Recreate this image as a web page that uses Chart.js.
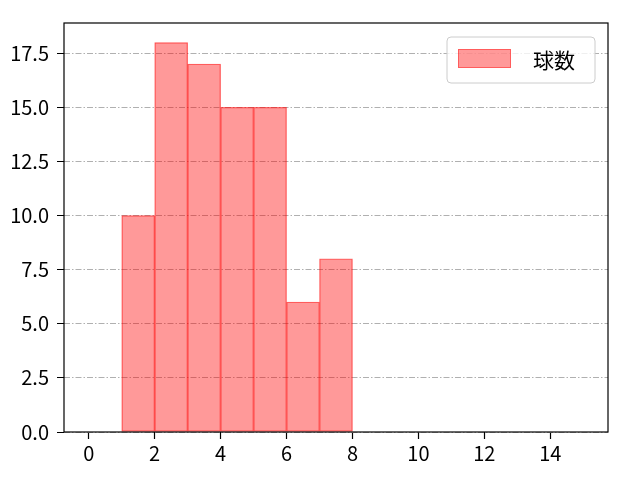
<!DOCTYPE html>
<html>
<head>
<meta charset="utf-8">
<script src="https://cdn.jsdelivr.net/npm/chart.js@4/dist/chart.umd.min.js"></script>
<style>
  html, body { margin: 0; padding: 0; background: #fff; }
  #wrap { width: 640px; height: 480px; }
</style>
</head>
<body>
<div id="wrap"><canvas id="hist"></canvas></div>
<script>
// ヒストグラムのデータ(ビンの左端と度数)
const binStarts = [1, 2, 3, 4, 5, 6, 7]
const counts = [10, 18, 17, 15, 15, 6, 8]
const seriesLabel = "球数"
const xTicks = [0, 2, 4, 6, 8, 10, 12, 14]
const yTicks = [0, 2.5, 5, 7.5, 10, 12.5, 15, 17.5]

const fontFamily = "'Noto Sans CJK JP', 'DejaVu Sans', sans-serif"
const barFill = "rgba(255, 0, 0, 0.4)"
const barEdge = "rgba(255, 0, 0, 0.55)"

// ビンの中心に棒を置く
const points = binStarts.map((s, i) => ({ x: s + 0.5, y: counts[i] }))

// 枠線と凡例を描くプラグイン
const frameAndLegend = {
  id: "frameAndLegend",
  afterDraw(chart) {
    const { ctx, chartArea: a } = chart
    ctx.save()
    ctx.strokeStyle = "#000"
    ctx.lineWidth = 1.2
    ctx.strokeRect(a.left, a.top, a.right - a.left, a.bottom - a.top)

    // 凡例
    const lx = 447, ly = 37, lw = 148, lh = 46, r = 4
    ctx.beginPath()
    ctx.roundRect(lx, ly, lw, lh, r)
    ctx.fillStyle = "rgba(255,255,255,0.8)"
    ctx.fill()
    ctx.strokeStyle = "#cccccc"
    ctx.lineWidth = 1
    ctx.stroke()

    ctx.fillStyle = barFill
    ctx.fillRect(458, 49, 53, 19)
    ctx.strokeStyle = "rgba(255, 0, 0, 0.4)"
    ctx.strokeRect(458.5, 49.5, 52, 18)

    ctx.fillStyle = "#000"
    ctx.font = "21px " + fontFamily
    ctx.textBaseline = "middle"
    ctx.textAlign = "left"
    ctx.fillText(seriesLabel, 533, 60)
    ctx.restore()
  },
}

new Chart(document.getElementById("hist"), {
  type: "bar",
  data: {
    datasets: [
      {
        label: seriesLabel,
        data: points,
        backgroundColor: barFill,
        borderColor: barEdge,
        borderWidth: 0.6,
        borderSkipped: false,
        barPercentage: 1,
        categoryPercentage: 1,
      },
    ],
  },
  options: {
    responsive: true,
    maintainAspectRatio: false,
    animation: false,
    layout: { padding: { left: 0, right: 32, top: 23, bottom: 0 } },
    plugins: {
      legend: { display: false },
      tooltip: { enabled: false },
    },
    scales: {
      x: {
        type: "linear",
        min: -0.75,
        max: 15.75,
        offset: false,
        afterBuildTicks: (scale) => {
          scale.ticks = xTicks.map((v) => ({ value: v }))
        },
        afterFit: (scale) => {
          scale.height = 48
        },
        ticks: {
          color: "#000",
          font: { family: fontFamily, size: 20 },
          padding: 2,
          maxRotation: 0,
          autoSkip: false,
        },
        grid: {
          offset: false,
          drawOnChartArea: false,
          drawTicks: true,
          tickLength: 7,
          tickColor: "#000",
          tickWidth: 1.2,
        },
        border: { display: false },
      },
      y: {
        min: 0,
        max: 18.9,
        z: 1,
        afterBuildTicks: (scale) => {
          scale.ticks = yTicks.map((v) => ({ value: v }))
        },
        afterFit: (scale) => {
          scale.width = 64
        },
        ticks: {
          color: "#000",
          font: { family: fontFamily, size: 20 },
          padding: 8,
          callback: (v) => Number(v).toFixed(1),
        },
        grid: {
          color: "#b0b0b0",
          lineWidth: 1,
          drawTicks: true,
          tickLength: 7,
          tickColor: "#000",
          tickWidth: 1.2,
          tickBorderDash: [1, 0],
        },
        border: { display: false, dash: [6, 2, 1.5, 2] },
      },
    },
  },
  plugins: [frameAndLegend],
})
</script>
</body>
</html>
